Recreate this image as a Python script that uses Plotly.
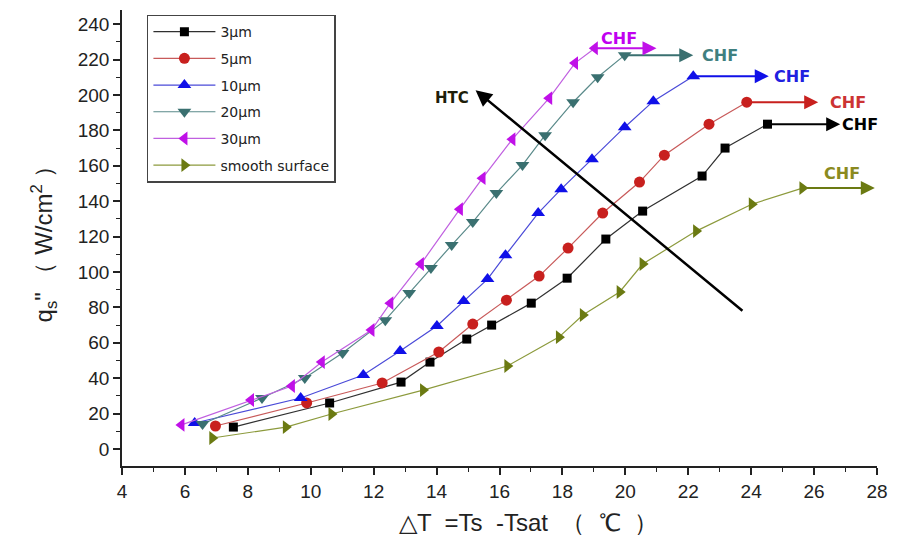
import plotly.graph_objects as go

# ---- data ----
x_3um = [7.54, 10.60, 12.87, 13.79, 14.96, 15.75, 17.01, 18.15, 19.38, 20.55, 22.44, 23.17, 24.52]
q_3um = [12.4, 26.0, 37.8, 49.1, 62.1, 70.0, 82.4, 96.5, 118.6, 134.4, 154.2, 170.0, 183.5]

x_5um = [6.97, 9.87, 12.27, 14.07, 15.15, 16.22, 17.26, 18.18, 19.28, 20.45, 21.24, 22.66, 23.86]
q_5um = [13.0, 26.0, 37.3, 54.8, 70.6, 84.1, 97.7, 113.5, 133.3, 150.8, 166.0, 183.5, 195.9]

x_10um = [6.31, 9.68, 11.67, 12.84, 14.01, 14.86, 15.62, 16.19, 17.23, 17.96, 18.94, 19.98, 20.89, 22.16]
q_10um = [14.7, 28.8, 41.8, 55.3, 69.5, 83.6, 96.0, 109.5, 133.3, 146.8, 163.7, 181.8, 196.5, 210.6]

x_20um = [6.56, 8.45, 9.81, 11.01, 12.37, 13.13, 13.82, 14.48, 15.15, 15.90, 16.73, 17.45, 18.34, 19.12, 19.98]
q_20um = [14.1, 28.8, 40.1, 54.2, 72.8, 88.1, 102.2, 115.2, 128.2, 144.6, 160.4, 177.3, 195.9, 210.0, 222.5]

x_30um = [5.89, 8.10, 9.40, 10.35, 11.93, 12.53, 13.50, 14.74, 15.46, 16.41, 17.58, 18.40, 19.03]
q_30um = [13.6, 27.7, 35.6, 49.1, 67.2, 82.4, 104.5, 135.5, 153.0, 175.0, 198.2, 218.0, 226.4]

x_smooth = [6.87, 9.21, 10.66, 13.57, 16.25, 17.89, 18.65, 19.82, 20.55, 22.25, 24.02, 25.63]
q_smooth = [6.2, 12.4, 19.8, 33.3, 46.9, 63.2, 75.7, 88.7, 104.5, 123.1, 138.3, 147.4]

series_names = ["3μm", "5μm", "10μm", "20μm", "30μm", "smooth surface"]
series_x = [x_3um, x_5um, x_10um, x_20um, x_30um, x_smooth]
series_q = [q_3um, q_5um, q_10um, q_20um, q_30um, q_smooth]
marker_colors = ["#000000", "#c8201e", "#1010e8", "#3a7070", "#c010e8", "#6b7a12"]
line_colors = ["#303030", "#c85a5a", "#4a4ad8", "#5a8a8a", "#c060e0", "#8c9a3c"]
symbols = ["square", "circle", "triangle-up", "triangle-down", "triangle-left", "triangle-right"]
sizes = [9, 11, 12, 12, 12, 12]

# CHF arrow tips (x) and label positions
chf_tip_x = [26.83, 26.13, 24.56, 22.16, 20.99, 27.93]
chf_label_x = [27.45, 27.08, 25.30, 23.00, 19.79, 26.90]
chf_label_y = [183.5, 195.9, 210.6, 222.5, 232.0, 155.8]
chf_text_colors = ["#000000", "#cc3333", "#2020e0", "#3f7f7f", "#c000f0", "#8a8a20"]

htc_tail = (23.77, 77.4)
htc_head = (15.24, 202.7)
htc_label = (14.5, 198.2)

x_title = "△T  =Ts  -Tsat  （  ℃  ）"
y_title = "q<sub>s</sub>\" （ W/cm<sup>2</sup> ）"

fig = go.Figure()
for name, xs, qs, mc, lc, sym, sz in zip(series_names, series_x, series_q, marker_colors, line_colors, symbols, sizes):
    fig.add_trace(go.Scatter(
        x=xs, y=qs, name=name, mode="lines+markers",
        line=dict(color=lc, width=1.2),
        marker=dict(symbol=sym, size=sz, color=mc, line=dict(width=0)),
        legendgroup=name,
    ))

annotations = []
for xs, qs, tip, lx, ly, mc, tc in zip(series_x, series_q, chf_tip_x, chf_label_x, chf_label_y, marker_colors, chf_text_colors):
    annotations.append(dict(
        x=tip, y=qs[-1], ax=xs[-1], ay=qs[-1], xref="x", yref="y", axref="x", ayref="y",
        text="", showarrow=True, arrowhead=2, arrowsize=1.4, arrowwidth=2, arrowcolor=mc,
    ))
    annotations.append(dict(
        x=lx, y=ly, xref="x", yref="y", text="<b>CHF</b>", showarrow=False,
        font=dict(family="DejaVu Sans", size=16, color=tc), xanchor="center", yanchor="middle",
    ))

annotations.append(dict(
    x=htc_head[0], y=htc_head[1], ax=htc_tail[0], ay=htc_tail[1],
    xref="x", yref="y", axref="x", ayref="y", text="", showarrow=True,
    arrowhead=2, arrowsize=1.3, arrowwidth=2.5, arrowcolor="#000000",
))
annotations.append(dict(
    x=htc_label[0], y=htc_label[1], xref="x", yref="y", text="<b>HTC</b>", showarrow=False,
    font=dict(family="DejaVu Sans", size=15, color="#1e1e0a"), xanchor="center", yanchor="middle",
))
# x-axis title placed as annotation (reference centres it right of plot centre)
annotations.append(dict(
    x=0.538, y=-0.123, xref="paper", yref="paper", text=x_title, showarrow=False,
    font=dict(family="Liberation Sans, Arial", size=24, color="#222222"),
    xanchor="center", yanchor="middle",
))

fig.update_layout(
    width=898, height=540,
    margin=dict(l=122, r=16, t=10, b=74),
    paper_bgcolor="white", plot_bgcolor="white",
    font=dict(family="Liberation Sans, Arial", color="#222222"),
    showlegend=True,
    legend=dict(
        x=0.033, y=0.99, xanchor="left", yanchor="top",
        bordercolor="#444444", borderwidth=1.5, bgcolor="white",
        font=dict(family="DejaVu Sans", size=14, color="#222222"),
        tracegroupgap=5.5, itemwidth=62,
    ),
    annotations=annotations,
)
fig.update_xaxes(
    range=[4, 28], tickvals=list(range(4, 29, 2)),
    showline=True, linecolor="#222222", linewidth=1.5, mirror=False,
    ticks="outside", ticklen=7, tickwidth=1.5, tickcolor="#222222",
    minor=dict(ticks="outside", ticklen=4, dtick=1, tickcolor="#222222", tickwidth=1),
    showgrid=False, zeroline=False,
    tickfont=dict(size=19, color="#222222"),
)
fig.update_yaxes(
    range=[-9.6, 248], tickvals=list(range(0, 241, 20)),
    showline=True, linecolor="#222222", linewidth=1.5, mirror=False,
    ticks="outside", ticklen=7, tickwidth=1.5, tickcolor="#222222",
    minor=dict(ticks="outside", ticklen=4, dtick=10, tickcolor="#222222", tickwidth=1),
    showgrid=False, zeroline=False,
    tickfont=dict(size=19, color="#222222"),
    title=dict(text=y_title, font=dict(size=24, color="#222222"), standoff=18),
)

fig.write_html("out.html")
